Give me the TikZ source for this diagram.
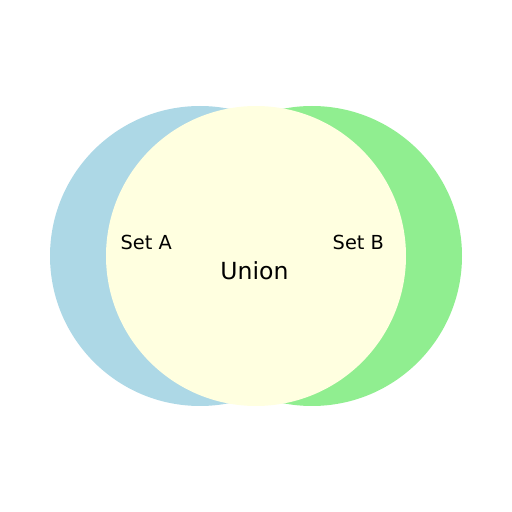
\documentclass[tikz,border=0pt]{standalone}
\usepackage{fontspec}
\setmainfont{DejaVu Sans}
\usetikzlibrary{calc}

\definecolor{setAblue}{HTML}{ADD8E6}
\definecolor{setBgreen}{HTML}{90EE90}
\definecolor{unionyellow}{HTML}{FFFFE0}

\begin{document}
\begin{tikzpicture}[
        setlabel/.style={font=\fontsize{11}{13}\selectfont, anchor=base},
        unionlabel/.style={font=\fontsize{13.4}{15}\selectfont, anchor=base}
    ]
        % Canvas
        \useasboundingbox (0,0) rectangle (10.24,10.24);

        % Define coordinates
        \coordinate (A) at (4.0,5.12);
        \coordinate (B) at (6.24,5.12);
        \coordinate (U) at (5.12,5.12);

        % Sets
        \fill[setAblue] (A) circle (3);
        \fill[setBgreen] (B) circle (3);

        % Union on top
        \fill[unionyellow] (U) circle (3);

        % Labels
        \node[setlabel] (labA) at (2.924,5.24) {Set A};
        \node[setlabel] (labB) at (7.166,5.24) {Set B};
        \node[unionlabel] (labU) at (5.09,4.654) {Union};
    \end{tikzpicture}
\end{document}
